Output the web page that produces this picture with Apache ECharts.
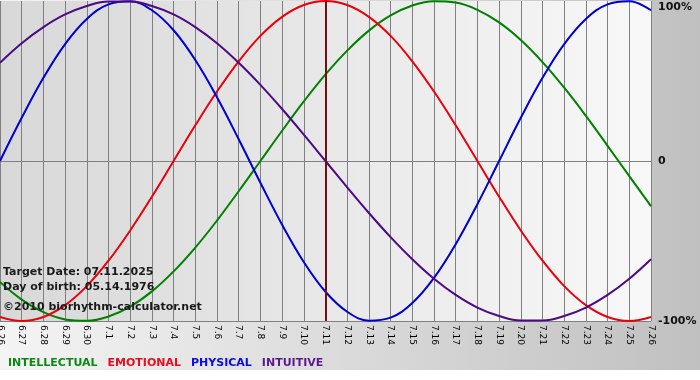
<!DOCTYPE html>
<html>
<head>
<meta charset="utf-8">
<script src="https://cdn.jsdelivr.net/npm/echarts@6/dist/echarts.min.js"></script>
<style>
html, body { margin: 0; padding: 0; background: #fff; }
#chart { width: 700px; height: 380px; }
</style>
</head>
<body>
<div id="chart"></div>
<script>
// dates shown on the x axis
var days = ['6.26', '6.27', '6.28', '6.29', '6.30', '7.1', '7.2', '7.3', '7.4', '7.5', '7.6',
	'7.7', '7.8', '7.9', '7.10', '7.11', '7.12', '7.13', '7.14', '7.15', '7.16', '7.17',
	'7.18', '7.19', '7.20', '7.21', '7.22', '7.23', '7.24', '7.25', '7.26'];
var targetDay = '7.11';

// cycle values in percent, one per day
var intellectual = [-75.6, -86.6, -94.5, -99.0, -99.9, -97.2, -91.0, -81.5, -69.0, -54.1, -37.2, -18.9, 0, 18.9, 37.2, 54.1,
	69.0, 81.5, 91.0, 97.2, 99.9, 99.0, 94.5, 86.6, 75.6, 61.8, 45.8, 28.2, 9.5, -9.5, -28.2];
var emotional = [-97.5, -100, -97.5, -90.1, -78.2, -62.3, -43.4, -22.3, 0, 22.3, 43.4, 62.3, 78.2, 90.1, 97.5, 100,
	97.5, 90.1, 78.2, 62.3, 43.4, 22.3, 0, -22.3, -43.4, -62.3, -78.2, -90.1, -97.5, -100, -97.5];
var physical = [0, 27.0, 52.0, 73.1, 88.8, 97.9, 99.8, 94.2, 81.7, 63.1, 39.8, 13.6, -13.6, -39.8, -63.1, -81.7,
	-94.2, -99.8, -97.9, -88.8, -73.1, -52.0, -27.0, 0, 27.0, 52.0, 73.1, 88.8, 97.9, 99.8, 94.2];
var intuitive = [61.4, 73.6, 83.7, 91.6, 96.9, 99.7, 99.7, 96.9, 91.6, 83.7, 73.6, 61.4, 47.6, 32.5, 16.5, 0,
	-16.5, -32.5, -47.6, -61.4, -73.6, -83.7, -91.6, -96.9, -99.7, -99.7, -96.9, -91.6, -83.7, -73.6, -61.4];

var seriesNames = ['INTELLECTUAL', 'EMOTIONAL', 'PHYSICAL', 'INTUITIVE'];
var lineColors = ['#008000', '#e8000c', '#0000d0', '#4b0a82'];
var legendColors = ['#0a8a14', '#ee0a1e', '#0a0aee', '#5a1a8e'];
var infoLines = ['Target Date: 07.11.2025', 'Day of birth: 05.14.1976', '\u00a92010 biorhythm-calculator.net'];

var chart = echarts.init(document.getElementById('chart'));

function makeLine(idx, values) {
	return {
		name: seriesNames[idx],
		type: 'line',
		data: values,
		smooth: 0.4,
		symbol: 'none',
		silent: true,
		lineStyle: { color: lineColors[idx], width: 2 },
		itemStyle: { color: lineColors[idx] }
	};
}

var seriesList = [
	makeLine(0, intellectual),
	makeLine(1, emotional),
	makeLine(2, physical),
	makeLine(3, intuitive)
];
// dark line on the target date
seriesList[1].markLine = {
	silent: true,
	symbol: 'none',
	label: { show: false },
	lineStyle: { color: '#701010', width: 2, type: 'solid' },
	data: [{ xAxis: targetDay }]
};

var option = {
	animation: false,
	backgroundColor: '#ffffff',
	graphic: [
		{
			type: 'rect', z: -10, silent: true,
			shape: { x: 0, y: 0, width: 700, height: 370 },
			style: {
				fill: new echarts.graphic.LinearGradient(0, 0, 1, 0, [
					{ offset: 0, color: '#f4f4f4' },
					{ offset: 1, color: '#c0c0c0' }
				])
			}
		},
		{ type: 'text', x: 3, y: 272, z: 10, silent: true,
			style: { text: infoLines[0], font: 'bold 11px "DejaVu Sans"', fill: '#1a1a1a', verticalAlign: 'middle' } },
		{ type: 'text', x: 3, y: 287, z: 10, silent: true,
			style: { text: infoLines[1], font: 'bold 11px "DejaVu Sans"', fill: '#1a1a1a', verticalAlign: 'middle' } },
		{ type: 'text', x: 3, y: 307, z: 10, silent: true,
			style: { text: infoLines[2], font: 'bold 11px "DejaVu Sans"', fill: '#1a1a1a', verticalAlign: 'middle' } }
	],
	legend: {
		left: -2,
		top: 353,
		icon: 'none',
		itemWidth: 0,
		itemHeight: 0,
		itemGap: 5,
		selectedMode: false,
		textStyle: { fontFamily: 'DejaVu Sans', fontWeight: 'bold', fontSize: 11 },
		data: seriesNames.map(function (n, i) {
			return { name: n, textStyle: { color: legendColors[i] } };
		})
	},
	grid: {
		left: 0,
		right: 49,
		top: 1,
		bottom: 59,
		outerBoundsMode: 'none',
		containLabel: false,
		show: true,
		borderWidth: 0,
		backgroundColor: new echarts.graphic.LinearGradient(0, 0, 1, 0, [
			{ offset: 0, color: '#d8d8d8' },
			{ offset: 1, color: '#f8f8f8' }
		])
	},
	xAxis: {
		type: 'category',
		data: days,
		boundaryGap: false,
		axisLine: { lineStyle: { color: '#808080', width: 1 } },
		axisTick: { show: true, length: 2, interval: 0, lineStyle: { color: '#808080' } },
		splitLine: { show: true, interval: 0, lineStyle: { color: '#808080', width: 1 } },
		axisLabel: {
			interval: 0,
			rotate: -90,
			margin: 4,
			color: '#000',
			fontFamily: 'DejaVu Sans',
			fontSize: 9
		}
	},
	yAxis: {
		type: 'value',
		position: 'right',
		min: -100,
		max: 100,
		interval: 100,
		axisLine: { show: false },
		axisTick: { show: false },
		splitLine: { show: true, lineStyle: { color: ['#808080', '#808080', 'rgba(0,0,0,0)'], width: 1 } },
		axisLabel: {
			margin: 7,
			color: '#111',
			fontFamily: 'DejaVu Sans',
			fontWeight: 'bold',
			fontSize: 11,
			formatter: function (v) {
				if (v === 100) return '{top|100%}';
				return v === 0 ? '0' : v + '%';
			},
			rich: {
				top: { padding: [12, 0, 0, 0], fontFamily: 'DejaVu Sans', fontWeight: 'bold', fontSize: 11, color: '#111' }
			}
		}
	},
	series: seriesList
};

chart.setOption(option);
</script>
</body>
</html>
